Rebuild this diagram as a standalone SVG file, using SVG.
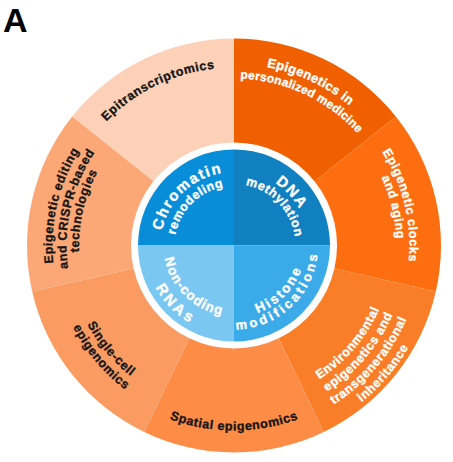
<svg xmlns="http://www.w3.org/2000/svg" xmlns:xlink="http://www.w3.org/1999/xlink" width="453" height="462" viewBox="0 0 453 462">
<style>
.t{font-family:"Liberation Sans",Arial,Helvetica,sans-serif;font-weight:bold;stroke-width:0.35px;stroke-linejoin:round;}
.o{font-size:12.5px;letter-spacing:0.55px;}
.w{fill:#ffffff;stroke:#ffffff;}
.k{fill:#151515;stroke:#151515;}
</style>
<defs>
<path id="pEpitr" d="M56.43,233.08 A178,178 0 0 1 333.54,97.93"/>
<path id="pEpiIn" d="M129.90,96.82 A181.5,181.5 0 0 1 414.81,229.68"/>
<path id="pPers" d="M138.21,108.70 A167,167 0 0 1 400.36,230.94"/>
<path id="pClocks" d="M283.85,77.23 A175.5,175.5 0 0 1 354.81,372.80"/>
<path id="pAging" d="M280.15,89.69 A162.5,162.5 0 0 1 345.86,363.37"/>
<path id="pEnv1" d="M205.11,401.35 A158.5,158.5 0 0 0 383.41,192.59"/>
<path id="pEnv2" d="M202.47,415.60 A173,173 0 0 0 397.08,187.75"/>
<path id="pEnv3" d="M199.83,429.86 A187.5,187.5 0 0 0 410.75,182.91"/>
<path id="pEnv4" d="M197.19,444.12 A202,202 0 0 0 424.41,178.07"/>
<path id="pSpatial" d="M73.79,338 A185,185 0 0 0 394.21,338"/>
<path id="pSingle1" d="M77.54,188.55 A166.5,166.5 0 0 0 262.91,409.47"/>
<path id="pSingle2" d="M64.39,183.77 A180.5,180.5 0 0 0 265.34,423.26"/>
<path id="pEdit1" d="M110.22,378.24 A181.5,181.5 0 0 1 180.93,71.93"/>
<path id="pEdit2" d="M119.76,368.00 A167.5,167.5 0 0 1 185.03,85.32"/>
<path id="pEdit3" d="M128.29,358.86 A155,155 0 0 1 188.68,97.27"/>
<path id="pChrom" d="M172.71,286.07 A73.5,73.5 0 0 1 277.72,186.42"/>
<path id="pRemod" d="M185.26,279.63 A59.5,59.5 0 0 1 268.13,196.76"/>
<path id="pDNA" d="M193.70,182.25 A75,75 0 0 1 293.50,291.16"/>
<path id="pMeth" d="M200.06,194.22 A61.5,61.5 0 0 1 283.44,282.08"/>
<path id="pNonc" d="M175.90,205.57 A70.5,70.5 0 0 0 274.94,302.90"/>
<path id="pRNAs" d="M161.10,194.45 A89,89 0 0 0 285.05,318.40"/>
<path id="pHist" d="M193.50,304.43 A71.5,71.5 0 0 0 292.21,203.98"/>
<path id="pModif" d="M184.04,313.02 A84,84 0 0 0 304.05,199.14"/>
</defs>

<text x="3" y="32" font-family="Liberation Sans, Arial, sans-serif" font-weight="bold" font-size="34" fill="#000">A</text>

<g id="seg-epitranscriptomics">
<path d="M153.47,181.28 L72.16,116.44 A207,207 0 0 1 234,38.5 L234,142.5 A103,103 0 0 0 153.47,181.28 Z" fill="#FDD1B8"/>
<text class="t o k"><textPath xlink:href="#pEpitr" href="#pEpitr" startOffset="50%" text-anchor="middle">Epitranscriptomics</textPath></text>
</g>
<g id="seg-personalized">
<path d="M234,142.5 L234,38.5 A207,207 0 0 1 395.84,116.44 L314.53,181.28 A103,103 0 0 0 234,142.5 Z" fill="#F06000"/>
<text class="t w" font-size="13" letter-spacing="0.3"><textPath xlink:href="#pEpiIn" href="#pEpiIn" startOffset="50%" text-anchor="middle">Epigenetics in</textPath></text>
<text class="t w" font-size="12" letter-spacing="0.2"><textPath xlink:href="#pPers" href="#pPers" startOffset="50%" text-anchor="middle">personalized medicine</textPath></text>
</g>
<g id="seg-clocks">
<path d="M314.53,181.28 L395.84,116.44 A207,207 0 0 1 435.81,291.56 L334.42,268.42 A103,103 0 0 0 314.53,181.28 Z" fill="#FD6E10"/>
<text class="t o w"><textPath xlink:href="#pClocks" href="#pClocks" startOffset="50%" text-anchor="middle">Epigenetic clocks</textPath></text>
<text class="t o w"><textPath xlink:href="#pAging" href="#pAging" startOffset="50%" text-anchor="middle">and aging</textPath></text>
</g>
<g id="seg-environmental">
<path d="M334.42,268.42 L435.81,291.56 A207,207 0 0 1 323.81,432 L278.69,338.30 A103,103 0 0 0 334.42,268.42 Z" fill="#FA7E27"/>
<text class="t o w"><textPath xlink:href="#pEnv1" href="#pEnv1" startOffset="50%" text-anchor="middle">Environmental</textPath></text>
<text class="t o w"><textPath xlink:href="#pEnv2" href="#pEnv2" startOffset="50%" text-anchor="middle">epigenetics and</textPath></text>
<text class="t o w"><textPath xlink:href="#pEnv3" href="#pEnv3" startOffset="50%" text-anchor="middle">transgenerational</textPath></text>
<text class="t o w"><textPath xlink:href="#pEnv4" href="#pEnv4" startOffset="50%" text-anchor="middle">inheritance</textPath></text>
</g>
<g id="seg-spatial">
<path d="M278.69,338.30 L323.81,432 A207,207 0 0 1 144.19,432 L189.31,338.30 A103,103 0 0 0 278.69,338.30 Z" fill="#FC8C46"/>
<text class="t o k"><textPath xlink:href="#pSpatial" href="#pSpatial" startOffset="50%" text-anchor="middle">Spatial epigenomics</textPath></text>
</g>
<g id="seg-singlecell">
<path d="M189.31,338.30 L144.19,432 A207,207 0 0 1 32.19,291.56 L133.58,268.42 A103,103 0 0 0 189.31,338.30 Z" fill="#FA9C62"/>
<text class="t o k"><textPath xlink:href="#pSingle1" href="#pSingle1" startOffset="50%" text-anchor="middle">Single-cell</textPath></text>
<text class="t o k"><textPath xlink:href="#pSingle2" href="#pSingle2" startOffset="50%" text-anchor="middle">epigenomics</textPath></text>
</g>
<g id="seg-editing">
<path d="M133.58,268.42 L32.19,291.56 A207,207 0 0 1 72.16,116.44 L153.47,181.28 A103,103 0 0 0 133.58,268.42 Z" fill="#FCA876"/>
<text class="t o k"><textPath xlink:href="#pEdit1" href="#pEdit1" startOffset="50%" text-anchor="middle">Epigenetic editing</textPath></text>
<text class="t o k"><textPath xlink:href="#pEdit2" href="#pEdit2" startOffset="50%" text-anchor="middle">and CRISPR-based</textPath></text>
<text class="t o k"><textPath xlink:href="#pEdit3" href="#pEdit3" startOffset="50%" text-anchor="middle">technologies</textPath></text>
</g>

<g id="q-chromatin">
<path d="M234,245.5 L138,245.5 A96,96 0 0 1 234,149.5 Z" fill="#088ED8"/>
<text class="t w" font-size="15" letter-spacing="1.6"><textPath xlink:href="#pChrom" href="#pChrom" startOffset="50%" text-anchor="middle">Chromatin</textPath></text>
<text class="t w" font-size="12.5" letter-spacing="0.5"><textPath xlink:href="#pRemod" href="#pRemod" startOffset="50%" text-anchor="middle">remodeling</textPath></text>
</g>
<g id="q-dna">
<path d="M234,245.5 L234,149.5 A96,96 0 0 1 330,245.5 Z" fill="#1080C0"/>
<text class="t w" font-size="15" letter-spacing="1.5"><textPath xlink:href="#pDNA" href="#pDNA" startOffset="50%" text-anchor="middle">DNA</textPath></text>
<text class="t w" font-size="12.5" letter-spacing="0.6"><textPath xlink:href="#pMeth" href="#pMeth" startOffset="50%" text-anchor="middle">methylation</textPath></text>
</g>
<g id="q-histone">
<path d="M234,245.5 L330,245.5 A96,96 0 0 1 234,341.5 Z" fill="#3AAAE8"/>
<text class="t w" font-size="13.5" letter-spacing="2.3"><textPath xlink:href="#pHist" href="#pHist" startOffset="50%" text-anchor="middle">Histone</textPath></text>
<text class="t w" font-size="13" letter-spacing="3"><textPath xlink:href="#pModif" href="#pModif" startOffset="50%" text-anchor="middle">modifications</textPath></text>
</g>
<g id="q-noncoding">
<path d="M234,245.5 L234,341.5 A96,96 0 0 1 138,245.5 Z" fill="#7AC8F2"/>
<text class="t w" font-size="13.5" letter-spacing="1.1"><textPath xlink:href="#pNonc" href="#pNonc" startOffset="50%" text-anchor="middle">Non-coding</textPath></text>
<text class="t w" font-size="15" letter-spacing="3"><textPath xlink:href="#pRNAs" href="#pRNAs" startOffset="50%" text-anchor="middle">RNAs</textPath></text>
</g>
</svg>
